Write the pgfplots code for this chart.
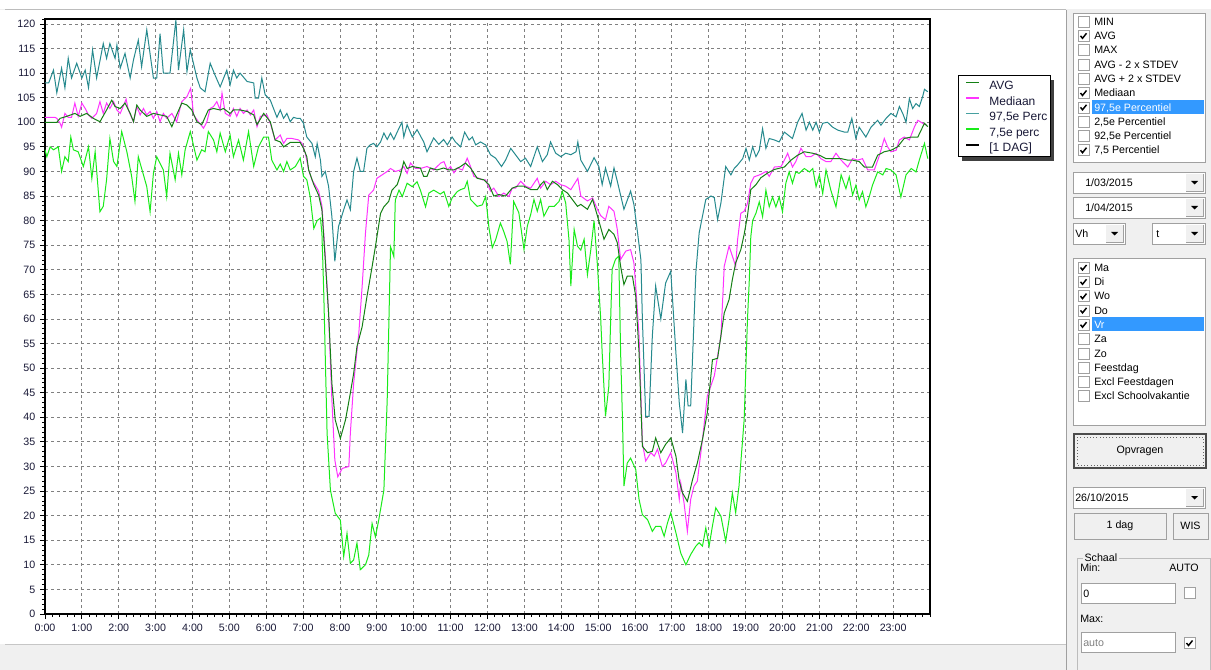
\documentclass[border=0pt]{standalone}
\usepackage{fontspec}
\setmainfont{Liberation Sans}
\usepackage{pgfplots}
\pgfplotsset{compat=1.18}
\definecolor{avgc}{RGB}{20,128,20}
\definecolor{medc}{RGB}{255,51,255}
\definecolor{tealc}{RGB}{38,138,142}
\definecolor{tealleg}{RGB}{70,160,160}
\definecolor{limec}{RGB}{25,235,25}
\definecolor{panelc}{RGB}{240,240,240}
\definecolor{hlc}{RGB}{51,153,255}
\definecolor{bordc}{RGB}{160,160,160}
\definecolor{txtc}{RGB}{25,25,55}
\newcommand{\fs}{\fontsize{8}{9.6}\selectfont}
\newcommand{\cb}[2]{\draw[bordc,fill=white] (#1,#2-5.5) rectangle ++(11,11);}
\newcommand{\cbk}[2]{\cb{#1}{#2}\draw[line width=1.1pt,black] (#1+2.5,#2) -- (#1+4.5,#2+2.5) -- (#1+8.5,#2-2.5);}
\newcommand{\itm}[3]{\node[anchor=base west,inner sep=0pt,font=\fs,text=#3] at (1094,#1+3.8) {#2};}
\newcommand{\combo}[5]{\draw[bordc,fill=white] (#1,#2) rectangle (#3,#4);
 \fill[panelc] ({#3-19},{#2+2}) rectangle ({#3-2},{#4-2});
 \draw[bordc] ({#3-19},{#4-2}) -- ({#3-2},{#4-2}) -- ({#3-2},{#2+2});
 \fill[black] ({#3-14},{(#2+#4)/2-1.5}) -- ++(7,0) -- ++(-3.5,3.5) -- cycle;
 \node[anchor=base west,inner sep=0pt,font=\fs] at ({#1+#5},{(#2+#4)/2+4}) {\combotext};}
\newcommand{\legimg}[2]{\addlegendimage{legend image code/.code={\draw[draw=#1,line width=#2] (0pt,3pt) -- (9.75pt,3pt);}}}
\begin{document}
\begin{tikzpicture}
\begin{scope}[x=0.75pt,y=-0.75pt]
\path[use as bounding box] (0,0) rectangle (1211,670);
\fill[panelc] (0,0) rectangle (1211,670);
\fill[white] (0,0) rectangle (1211,9);
\fill[white] (0,10) rectangle (1066,644);
\draw[bordc!70] (5,9.5) -- (1066,9.5);
\draw[bordc] (1066.5,10) -- (1066.5,670);
\draw[bordc!60] (5,644.5) -- (1066,644.5);
% legend frame and shadow
\fill[black!75] (962,80) rectangle (1054,161);
\draw[black,line width=0.75pt,fill=white] (958,76) rectangle (1050,157);
% listbox 1
\draw[bordc,fill=white] (1073,13) rectangle (1205,162);
\fill[hlc] (1092,100) rectangle (1204,114);
\cb{1078}{21.5}\itm{21.5}{MIN}{black}
\cbk{1078}{35.8}\itm{35.8}{AVG}{black}
\cb{1078}{50.1}\itm{50.1}{MAX}{black}
\cb{1078}{64.4}\itm{64.4}{AVG - 2 x STDEV}{black}
\cb{1078}{78.7}\itm{78.7}{AVG + 2 x STDEV}{black}
\cbk{1078}{93}\itm{93}{Mediaan}{black}
\cbk{1078}{107.3}\itm{107.3}{97,5e Percentiel}{white}
\cb{1078}{121.6}\itm{121.6}{2,5e Percentiel}{black}
\cb{1078}{135.9}\itm{135.9}{92,5e Percentiel}{black}
\cbk{1078}{150.2}\itm{150.2}{7,5 Percentiel}{black}
% combos
\def\combotext{1/03/2015}\combo{1073}{172}{1205}{193}{12}
\def\combotext{1/04/2015}\combo{1073}{197}{1205}{218}{12}
\def\combotext{Vh}\combo{1073}{223}{1125}{244}{2}
\def\combotext{t}\combo{1152}{223}{1205}{244}{4}
% listbox 2
\draw[bordc,fill=white] (1073,258) rectangle (1205,425);
\fill[hlc] (1092,317) rectangle (1204,331);
\cbk{1078}{267.5}\itm{267.5}{Ma}{black}
\cbk{1078}{281.8}\itm{281.8}{Di}{black}
\cbk{1078}{296.1}\itm{296.1}{Wo}{black}
\cbk{1078}{310.4}\itm{310.4}{Do}{black}
\cbk{1078}{324.7}\itm{324.7}{Vr}{white}
\cb{1078}{339}\itm{339}{Za}{black}
\cb{1078}{353.3}\itm{353.3}{Zo}{black}
\cb{1078}{367.6}\itm{367.6}{Feestdag}{black}
\cb{1078}{381.9}\itm{381.9}{Excl Feestdagen}{black}
\cb{1078}{396.2}\itm{396.2}{Excl Schoolvakantie}{black}
% buttons
\draw[black!70,line width=0.9pt,fill=panelc] (1074,434) rectangle (1206,468);
\draw[black!60,dotted] (1077,437) rectangle (1203,465);
\node[font=\fs,inner sep=0pt] at (1140,451) {Opvragen};
\def\combotext{26/10/2015}\combo{1073}{487}{1205}{508}{2}
\draw[bordc,fill=panelc] (1074,513) rectangle (1166,539);
\node[font=\fs,inner sep=0pt] at (1120,526) {1 dag};
\draw[bordc,fill=panelc] (1173,513) rectangle (1208,539);
\node[font=\fs,inner sep=0pt] at (1190.5,526) {WIS};
% Schaal group
\draw[bordc!70] (1077,558) rectangle (1210,680);
\node[font=\fs,inner sep=1pt,fill=panelc,anchor=base west] at (1083,561) {Schaal};
\node[font=\fs,inner sep=0pt,anchor=base west] at (1080,571) {Min:};
\node[font=\fs,inner sep=0pt,anchor=base east] at (1199,571) {AUTO};
\draw[bordc,fill=white] (1081,583) rectangle (1175,603);
\node[font=\fs,inner sep=0pt,anchor=base west] at (1083,597) {0};
\cb{1184}{593}
\node[font=\fs,inner sep=0pt,anchor=base west] at (1080,622) {Max:};
\draw[bordc,fill=white] (1081,632) rectangle (1175,652);
\node[font=\fs,inner sep=0pt,anchor=base west,text=gray] at (1083,646) {auto};
\cbk{1184}{643}
\end{scope}
\begin{axis}[
 at={(33.75pt,-460.5pt)}, anchor=south west,
 width=663.75pt, height=446.25pt, scale only axis,
 xmin=0, xmax=24, ymin=0, ymax=121,
 xtick={0,...,23},
 xticklabels={0:00,1:00,2:00,3:00,4:00,5:00,6:00,7:00,8:00,9:00,10:00,11:00,12:00,13:00,14:00,15:00,16:00,17:00,18:00,19:00,20:00,21:00,22:00,23:00},
 ytick={0,5,...,120},
 minor xtick={0,0.2,...,24}, minor ytick={0,1,...,121},
 tick align=outside, xtick pos=bottom, ytick pos=left,
 major tick length=3.75pt, minor tick length=2.25pt,
 tick style={black, line width=0.6pt},
 grid=major,
 major grid style={gray, dash pattern=on 2.25pt off 2.25pt, line width=0.6pt},
 axis line style={black, line width=1.3pt},
 tick label style={font=\fs, text=txtc},
 /pgf/number format/assume math mode=true,
 legend cell align=left,
 legend style={at={(1.0395,0.8975)}, anchor=north west, draw=none, fill=none,
   font=\fontsize{9}{10.8}\selectfont, text=txtc,
   inner sep=0pt, row sep=2.7pt,
   nodes={inner sep=0pt, text height=7pt, text depth=2pt},
   /tikz/every odd column/.append style={column sep=6.75pt}},
]
\legimg{avgc}{1pt}\addlegendentry{AVG}
\legimg{medc}{1pt}\addlegendentry{Mediaan}
\legimg{tealleg}{1pt}\addlegendentry{97,5e Perc}
\legimg{limec}{1pt}\addlegendentry{7,5e perc}
\legimg{black}{1.6pt}\addlegendentry{[1 DAG]}
% 7,5e percentiel
\addplot[limec, line width=0.75pt, forget plot] coordinates {
(0.00,94.4) (0.05,93) (0.14,95) (0.23,94.4) (0.36,95) (0.45,90) (0.54,93) (0.63,92) (0.70,97) (0.77,94.4) (0.90,94) (1.04,91) (1.18,95) (1.27,88.6) (1.36,94) (1.49,81.8) (1.58,82.9) (1.67,88.3) (1.76,96.7) (1.86,92) (1.95,91) (2.08,98.1) (2.22,94) (2.35,89) (2.44,83.9) (2.53,93) (2.67,89.3) (2.76,86.9) (2.85,81.8) (2.94,89.6) (3.03,93) (3.21,90.3) (3.30,84.9) (3.39,93.7) (3.53,88.3) (3.62,93.7) (3.71,89.3) (3.80,94.4) (3.94,98.1) (4.12,92.3) (4.25,94.4) (4.34,94) (4.43,98.1) (4.57,96.4) (4.66,94) (4.75,97.8) (4.89,94) (5.02,97.4) (5.11,93) (5.25,96.4) (5.38,92.3) (5.52,98.1) (5.66,91) (5.79,95) (5.93,97) (6.06,97) (6.15,92.3) (6.29,90.3) (6.38,91.5) (6.47,90) (6.56,92) (6.65,90.3) (6.79,91) (6.92,92.7) (7.01,89) (7.10,88.3) (7.19,84.9) (7.29,78.4) (7.38,80) (7.47,80.5) (7.51,77.4) (7.56,65.2) (7.65,36.7) (7.74,25.2) (7.87,20.5) (8.01,19.1) (8.10,11.7) (8.19,16.4) (8.28,10.3) (8.37,11) (8.46,14.4) (8.55,9) (8.69,10) (8.78,12) (8.87,18.4) (8.96,15.7) (9.05,19.1) (9.19,25.2) (9.28,43.5) (9.37,74.7) (9.46,72.7) (9.50,84.2) (9.60,86.2) (9.69,84.9) (9.82,87.6) (9.96,86.9) (10.09,87.9) (10.18,86.2) (10.32,82.8) (10.41,85.6) (10.54,86.2) (10.72,85.4) (10.82,85.9) (10.95,82.9) (11.04,84.6) (11.18,85.9) (11.27,86.3) (11.38,86.6) (11.45,88) (11.54,84.3) (11.72,82.9) (11.86,83.2) (11.95,84.9) (12.04,78.5) (12.13,74.5) (12.22,76.1) (12.35,79.5) (12.44,77.8) (12.53,75.8) (12.62,71.1) (12.71,83.9) (12.85,81.6) (12.99,74.1) (13.08,78.9) (13.17,81.2) (13.26,84.3) (13.35,81.9) (13.44,84.3) (13.53,80.9) (13.67,82.9) (13.81,82.9) (13.94,83.9) (14.03,85.9) (14.12,83.6) (14.21,76.1) (14.26,66.7) (14.35,78.2) (14.44,74.8) (14.53,74) (14.62,76.2) (14.71,69) (14.80,74) (14.89,80) (14.98,71) (15.07,60) (15.11,53.1) (15.20,40.2) (15.29,46.3) (15.34,59.9) (15.38,70.1) (15.47,72.1) (15.56,72.8) (15.61,53.1) (15.66,39.6) (15.70,26) (15.79,30.7) (15.88,31.7) (16.02,29.4) (16.11,23.3) (16.20,20.2) (16.34,19.2) (16.47,16.8) (16.56,17.8) (16.70,17.8) (16.79,15.8) (16.88,18.5) (16.97,20.6) (17.11,16.5) (17.24,12.4) (17.38,10) (17.51,12.1) (17.65,13.8) (17.74,14.5) (17.83,13.8) (17.92,17.5) (18.01,13.8) (18.10,17.9) (18.19,21.6) (18.33,19.9) (18.46,14.8) (18.55,19.2) (18.64,24.6) (18.73,20.6) (18.82,26) (18.96,39.5) (19.05,59.9) (19.10,68) (19.14,76.7) (19.19,80) (19.28,81.5) (19.37,83.8) (19.46,80.8) (19.55,86.2) (19.64,82.8) (19.73,84.8) (19.82,82.8) (19.91,84.8) (20.00,81.8) (20.09,87.6) (20.18,89.9) (20.27,87.6) (20.36,89.9) (20.45,89.6) (20.59,90.6) (20.73,89.9) (20.82,90.6) (20.91,86.9) (21.00,89.3) (21.09,85.5) (21.18,90.3) (21.31,86.2) (21.45,82.8) (21.59,89.3) (21.72,86.5) (21.81,88.9) (21.90,85.2) (21.99,87.2) (22.08,84.2) (22.17,85.9) (22.26,82.8) (22.35,84.8) (22.44,87.2) (22.58,89.9) (22.72,89.3) (22.81,90.6) (22.94,90.3) (23.08,89.3) (23.21,84.8) (23.35,89.3) (23.49,90.6) (23.62,89.9) (23.71,92.3) (23.85,95.7) (23.94,92.6)
};
% 97,5e percentiel
\addplot[tealc, line width=0.75pt, forget plot] coordinates {
(0.00,108) (0.10,108) (0.23,110.6) (0.32,106) (0.45,111) (0.54,107) (0.63,113) (0.72,109) (0.86,112) (1.00,109) (1.09,110.6) (1.18,107) (1.29,114.7) (1.40,109) (1.58,116) (1.67,113) (1.76,116) (1.90,113) (1.95,115.7) (2.04,111) (2.17,114) (2.31,109) (2.40,112.7) (2.53,116.7) (2.62,111.3) (2.76,118.8) (2.94,109) (3.03,109) (3.12,118) (3.21,110) (3.39,110) (3.55,120.8) (3.62,110.6) (3.76,118.8) (3.85,110.3) (3.94,114.7) (4.12,109) (4.21,107) (4.34,106.2) (4.48,112) (4.61,109.6) (4.75,107.2) (4.93,110.6) (5.02,107.6) (5.11,110.6) (5.20,109) (5.29,110) (5.48,108.3) (5.66,108) (5.70,104.9) (5.79,104.9) (5.88,109) (5.97,105.6) (6.11,104.5) (6.29,101) (6.38,102.5) (6.47,100.8) (6.56,101.8) (6.65,100.1) (6.74,101) (6.83,100.8) (6.92,100.8) (7.01,99.8) (7.10,97) (7.24,95.7) (7.33,93) (7.38,95.7) (7.47,92.3) (7.51,89) (7.60,90) (7.69,87) (7.78,80.8) (7.86,71.7) (7.96,78.8) (8.10,82.2) (8.19,84.2) (8.28,82.2) (8.37,90) (8.46,92.7) (8.55,90) (8.64,90) (8.73,94.7) (8.82,95.4) (8.91,95.7) (9.00,95) (9.10,96) (9.19,97.8) (9.28,96.5) (9.37,97.8) (9.46,96.5) (9.55,98) (9.68,100) (9.73,97) (9.82,99.5) (9.96,97) (10.09,98.5) (10.27,96) (10.36,94) (10.54,96.8) (10.68,95.5) (10.81,96.5) (10.91,95.4) (11.04,97) (11.13,96) (11.27,95) (11.38,98) (11.50,96.4) (11.59,97) (11.68,95.4) (11.81,96) (11.95,95.4) (12.08,93.4) (12.22,92.7) (12.38,91) (12.49,92.3) (12.63,94.7) (12.76,93.4) (12.90,92) (13.03,92.7) (13.17,91) (13.35,95) (13.49,92) (13.62,93.4) (13.71,96) (13.85,93.7) (13.99,93) (14.12,93.7) (14.26,93.4) (14.40,94) (14.45,96) (14.53,92.3) (14.71,90) (14.89,92.8) (15.02,91) (15.11,87.3) (15.20,90.7) (15.34,87) (15.43,90.7) (15.52,88) (15.70,82.3) (15.88,86) (15.97,83.3) (16.07,77.5) (16.16,72) (16.20,60) (16.29,40.2) (16.38,40.2) (16.47,56.5) (16.56,66.7) (16.70,60) (16.83,67.3) (16.97,69.7) (17.11,53) (17.20,43) (17.29,36.8) (17.38,47.7) (17.44,42.3) (17.51,42.3) (17.65,69.4) (17.74,77.5) (17.92,84.3) (18.06,85) (18.15,84.7) (18.24,80.2) (18.33,83.6) (18.46,91) (18.60,89.3) (18.69,90.6) (18.78,91.3) (18.92,92.6) (19.01,94.7) (19.10,92.3) (19.19,95) (19.28,93) (19.37,94.3) (19.46,98.7) (19.55,94.7) (19.64,96.7) (19.78,96.4) (19.91,96) (20.05,98) (20.27,96.7) (20.41,100) (20.53,101.8) (20.64,98.4) (20.73,100) (20.82,98.4) (20.91,100) (21.00,98) (21.09,99.8) (21.22,100) (21.36,99) (21.50,98.4) (21.68,98) (21.77,98) (21.88,100.8) (21.99,96.7) (22.08,99) (22.26,97) (22.40,99) (22.58,100.4) (22.67,99.4) (22.81,100.8) (22.94,101.8) (23.08,101.1) (23.17,103.2) (23.26,101.8) (23.35,100) (23.44,104.8) (23.53,102.8) (23.62,103.8) (23.71,103.2) (23.80,105.2) (23.85,106.7) (23.94,106.2)
};
% Mediaan
\addplot[medc, line width=0.75pt, forget plot] coordinates {
(0.00,101) (0.27,101) (0.32,100.8) (0.41,99.8) (0.45,99) (0.54,101.8) (0.63,101) (0.72,101) (0.81,103.9) (0.90,101.2) (1.00,103.9) (1.09,102.8) (1.18,101.5) (1.27,100.8) (1.40,101.8) (1.49,104.2) (1.58,101.8) (1.67,103.9) (1.76,102.8) (1.86,104.2) (1.95,102.5) (2.04,101.8) (2.20,104.7) (2.26,102.5) (2.40,100.1) (2.49,103.2) (2.58,101.5) (2.67,102.8) (2.76,101.5) (2.85,102.2) (2.94,100.8) (3.03,102.2) (3.12,100.1) (3.21,101.8) (3.30,100.8) (3.44,101.8) (3.57,100.1) (3.71,104.2) (3.85,105.2) (3.95,106.9) (4.03,101.5) (4.16,100.1) (4.30,98.8) (4.39,100.1) (4.48,102.8) (4.57,103.2) (4.66,104.2) (4.75,102.5) (4.80,105.9) (4.89,101.8) (5.02,101.2) (5.11,102.8) (5.20,101.2) (5.29,102.8) (5.38,101.8) (5.48,102.5) (5.57,101.5) (5.66,102.5) (5.75,99.1) (5.84,101.2) (6.02,101.5) (6.11,99.8) (6.24,96.4) (6.38,97.4) (6.47,95.7) (6.56,96.7) (6.70,96.7) (6.88,96.4) (6.97,95.7) (7.06,93.7) (7.15,90.3) (7.24,88.3) (7.42,86) (7.51,83) (7.60,73) (7.69,61.2) (7.78,43.5) (7.86,31.3) (7.94,27.9) (8.06,29.6) (8.24,30) (8.28,36.7) (8.37,46.9) (8.51,57.1) (8.60,66.6) (8.69,77.4) (8.78,85.2) (8.91,86.2) (9.00,88.6) (9.14,89.3) (9.28,90) (9.37,90.6) (9.50,90) (9.64,90.3) (9.73,91) (9.82,89.6) (9.91,91.7) (10.05,90.6) (10.18,90.6) (10.36,91) (10.54,90.3) (10.73,91.7) (10.82,92) (10.91,90.3) (11.00,91) (11.09,89.7) (11.18,90.7) (11.32,90.3) (11.45,92.7) (11.54,91) (11.63,89) (11.77,88.6) (11.86,88.3) (11.95,88.3) (12.08,86) (12.17,86.6) (12.31,84.9) (12.44,85.6) (12.58,84.9) (12.67,86.6) (12.76,86.6) (12.90,88) (13.03,87) (13.17,86.6) (13.35,88.6) (13.44,86.6) (13.58,88) (13.71,87.3) (13.85,88) (13.99,87.3) (14.12,87) (14.26,86.3) (14.45,88.6) (14.53,85) (14.71,84) (14.85,84.6) (14.98,82.3) (15.07,81) (15.20,80.2) (15.29,82.9) (15.43,81.9) (15.52,78.2) (15.61,72.1) (15.75,73.8) (15.88,74.1) (15.97,71.4) (16.02,66.7) (16.11,56.5) (16.20,34.8) (16.29,31.1) (16.43,32.8) (16.52,32.1) (16.61,33.5) (16.74,30) (16.83,30.7) (16.97,32.8) (17.11,28.7) (17.20,23.3) (17.24,26.7) (17.33,22.6) (17.42,16.8) (17.51,23.3) (17.60,26) (17.69,27) (17.83,35.5) (17.96,44.3) (18.15,48.4) (18.33,56.5) (18.42,70.7) (18.55,74.8) (18.64,72.8) (18.73,70.7) (18.78,76) (18.87,81.5) (18.96,81.9) (19.05,83.5) (19.14,87.6) (19.23,88.9) (19.41,89.4) (19.55,90) (19.64,89) (19.78,90.9) (19.96,91) (20.05,92.3) (20.14,93.7) (20.27,90.9) (20.36,92) (20.50,94.7) (20.64,93) (20.77,93) (20.91,93.7) (21.04,92.6) (21.18,92) (21.31,92) (21.45,93.7) (21.59,92.3) (21.77,90.9) (21.90,92.6) (22.04,92.3) (22.17,92.6) (22.31,90.3) (22.49,90.3) (22.63,93.3) (22.76,96.7) (22.85,95) (22.94,94) (23.08,94.3) (23.17,96.4) (23.30,97) (23.44,96.4) (23.58,99.1) (23.67,100.4) (23.80,99.8) (23.90,99.4)
};
% AVG
\addplot[avgc, line width=0.75pt, forget plot] coordinates {
(0.00,100) (0.32,100) (0.41,100.8) (0.59,101.2) (0.81,101.8) (0.95,101.2) (1.13,101.8) (1.31,100.8) (1.49,100.1) (1.67,102.5) (1.81,104.5) (1.90,103.2) (2.04,102.8) (2.17,103.9) (2.31,101.8) (2.40,100.1) (2.49,103.5) (2.58,102.5) (2.76,101.2) (2.94,101.8) (3.12,101.5) (3.30,101.2) (3.44,99.1) (3.57,101.5) (3.71,103.9) (3.85,103.5) (3.98,102.5) (4.12,100.1) (4.25,99.5) (4.43,102.5) (4.57,102.8) (4.75,102.5) (4.84,102.8) (5.02,101.8) (5.11,102.5) (5.29,102.5) (5.48,102.2) (5.66,101.5) (5.75,99.5) (5.93,101.8) (6.11,100.1) (6.24,96.4) (6.38,96) (6.47,95) (6.65,95.9) (6.92,95.9) (7.01,94.7) (7.10,93) (7.15,90.3) (7.29,87.3) (7.42,85.2) (7.51,82.2) (7.60,72) (7.69,61.2) (7.78,46.9) (7.87,39.5) (8.01,35.7) (8.15,39.5) (8.28,44.9) (8.37,48.9) (8.46,54.4) (8.60,58.4) (8.73,64.5) (8.87,70.6) (8.96,74.7) (9.10,81.5) (9.19,82.8) (9.32,83.9) (9.41,86.2) (9.55,87.3) (9.64,89.3) (9.73,92) (9.82,90.6) (9.96,91) (10.18,90.7) (10.27,89) (10.36,89) (10.45,90.7) (10.63,90.3) (10.81,90.7) (10.95,90.3) (11.09,90.3) (11.27,91) (11.40,91.7) (11.54,90.7) (11.72,88.6) (11.90,88.3) (12.04,87.3) (12.17,85) (12.31,85.3) (12.49,85) (12.67,86.6) (12.81,87) (12.99,87) (13.17,86.3) (13.35,86.3) (13.44,87.3) (13.53,88) (13.62,86.3) (13.76,88) (13.90,87.3) (14.03,86.3) (14.17,85.6) (14.30,84.3) (14.44,82.9) (14.53,83.3) (14.71,82.3) (14.85,84.3) (14.98,81) (15.16,76.2) (15.29,78.2) (15.43,77.2) (15.52,75.5) (15.61,70.7) (15.70,67) (15.79,68.7) (15.93,68.7) (16.02,64.6) (16.11,53.1) (16.20,34.1) (16.34,32.8) (16.47,33.1) (16.56,35.8) (16.70,32.8) (16.83,34.5) (16.97,35.8) (17.11,32.1) (17.20,27) (17.29,24.6) (17.42,22.9) (17.56,27.3) (17.69,30.7) (17.83,35.5) (17.96,40.9) (18.10,51.7) (18.24,52) (18.42,61.2) (18.55,63.9) (18.64,68) (18.73,71.4) (18.87,74.1) (18.96,77.2) (19.05,81) (19.14,86.3) (19.28,87.3) (19.41,88.7) (19.60,89.7) (19.78,90.4) (20.05,90.9) (20.23,92.3) (20.41,93.3) (20.59,94) (20.82,93.7) (21.00,93.3) (21.18,92.6) (21.41,92.6) (21.59,92.6) (21.77,92.3) (21.90,92.3) (22.08,92) (22.22,90.9) (22.44,90.9) (22.58,93.3) (22.76,94) (22.94,94.3) (23.12,95) (23.30,96.7) (23.49,97) (23.67,97) (23.85,99.8) (23.94,99.1)
};
\end{axis}
\end{tikzpicture}
\end{document}
